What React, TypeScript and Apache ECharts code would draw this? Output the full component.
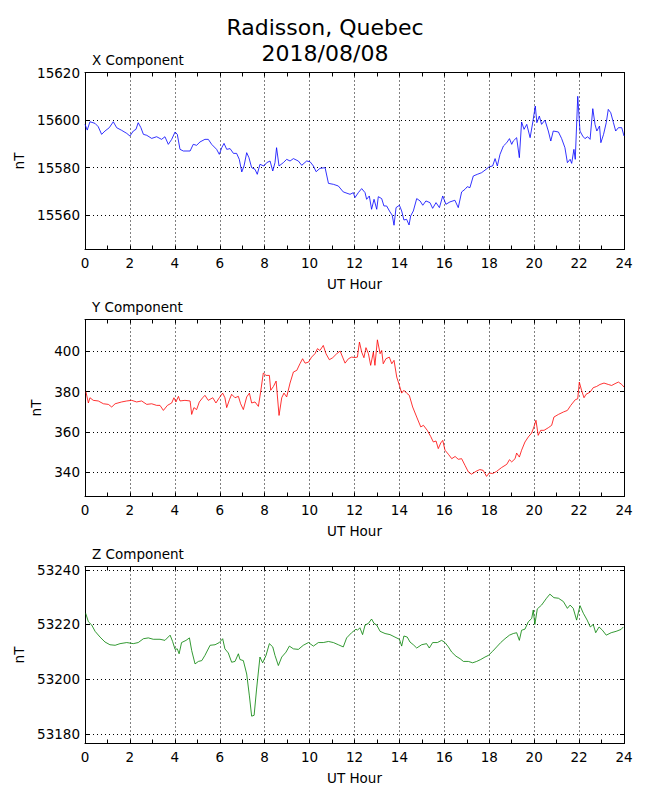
import React, { useEffect, useRef } from "react";
import * as echarts from "echarts";

// ---- X component (nT) ----
const xHours = [
  0.0, 0.1, 0.22, 0.45, 0.59, 0.74, 0.89, 1.08, 1.26, 1.41, 1.63, 1.86, 2.0, 2.15, 2.27, 2.37, 2.49, 2.6, 2.75, 2.97,
  3.19, 3.41, 3.56, 3.71, 3.86, 4.01, 4.11, 4.23, 4.38, 4.68, 4.82, 4.97, 5.12, 5.34, 5.49, 5.64, 5.86, 5.98, 6.09, 6.19,
  6.31, 6.46, 6.61, 6.75, 6.87, 6.98, 7.08, 7.2, 7.3, 7.42, 7.57, 7.67, 7.79, 7.97, 8.09, 8.24, 8.36, 8.46, 8.53, 8.64,
  8.83, 8.98, 9.13, 9.28, 9.5, 9.65, 9.87, 10.02, 10.17, 10.29, 10.46, 10.69, 10.84, 11.06, 11.28, 11.5, 11.8, 11.95,
  12.02, 12.17, 12.32, 12.47, 12.54, 12.66, 12.76, 12.87, 12.99, 13.06, 13.21, 13.31, 13.43, 13.58, 13.68, 13.76, 13.85,
  14.0, 14.1, 14.2, 14.32, 14.43, 14.5, 14.62, 14.77, 14.92, 15.04, 15.18, 15.36, 15.48, 15.63, 15.78, 15.93, 16.07,
  16.25, 16.47, 16.62, 16.77, 16.92, 17.02, 17.14, 17.29, 17.47, 17.66, 17.86, 18.0, 18.15, 18.26, 18.36, 18.48, 18.63,
  18.78, 18.9, 19.0, 19.07, 19.22, 19.34, 19.44, 19.55, 19.67, 19.82, 19.94, 20.05, 20.12, 20.23, 20.33, 20.48, 20.63,
  20.74, 20.85, 21.08, 21.22, 21.37, 21.48, 21.6, 21.67, 21.77, 21.83, 21.94, 22.04, 22.16, 22.26, 22.38, 22.49, 22.61,
  22.71, 22.79, 22.91, 22.97, 23.09, 23.21, 23.3, 23.41, 23.53, 23.63, 23.75, 23.9, 24.0,
];
const xNT = [
  15598.2, 15595.8, 15599.3, 15598.6, 15597.2, 15594.0, 15595.4, 15596.8, 15599.3, 15596.8, 15595.7, 15594.4, 15593.3,
  15595.4, 15596.1, 15598.9, 15596.8, 15594.0, 15593.6, 15592.3, 15593.0, 15591.9, 15593.0, 15589.8, 15591.9, 15595.0,
  15594.0, 15587.7, 15587.0, 15587.0, 15589.8, 15589.4, 15590.8, 15591.9, 15591.9, 15589.8, 15587.7, 15585.6, 15588.4,
  15590.2, 15587.7, 15588.0, 15586.0, 15586.0, 15583.5, 15578.2, 15580.7, 15586.3, 15584.2, 15580.0, 15579.3, 15577.2,
  15581.4, 15580.7, 15582.1, 15582.8, 15578.6, 15582.1, 15588.4, 15580.7, 15582.1, 15583.5, 15582.8, 15583.8, 15582.8,
  15581.0, 15582.8, 15582.5, 15580.7, 15578.3, 15579.7, 15580.0, 15573.4, 15573.0, 15572.3, 15569.8, 15568.8, 15569.5,
  15567.4, 15569.5, 15571.2, 15569.5, 15566.7, 15568.1, 15562.5, 15566.7, 15562.5, 15567.8, 15567.0, 15563.9, 15563.9,
  15561.4, 15560.0, 15555.8, 15563.2, 15564.2, 15561.8, 15558.0, 15558.3, 15555.9, 15559.7, 15561.8, 15567.0, 15566.0,
  15564.2, 15566.0, 15565.3, 15562.9, 15565.3, 15563.2, 15568.1, 15564.6, 15565.6, 15566.3, 15563.2, 15569.8, 15570.9,
  15572.0, 15571.6, 15576.5, 15577.2, 15577.9, 15579.3, 15580.4, 15580.7, 15583.8, 15580.7, 15585.6, 15589.1, 15590.5,
  15592.2, 15589.8, 15591.2, 15592.6, 15584.2, 15599.2, 15596.1, 15598.2, 15592.6, 15599.2, 15605.9, 15598.9, 15601.7,
  15598.2, 15600.0, 15595.4, 15591.2, 15595.4, 15595.0, 15592.3, 15588.4, 15582.1, 15583.5, 15581.8, 15587.7, 15583.5,
  15610.0, 15595.4, 15593.3, 15592.2, 15593.0, 15591.9, 15604.8, 15598.2, 15595.4, 15597.5, 15590.5, 15594.0, 15598.9,
  15604.5, 15603.1, 15598.9, 15595.4, 15596.8, 15596.8, 15593.3,
];

// ---- Y component (nT) ----
const yHours = [
  0.04, 0.15, 0.22, 0.37, 0.59, 0.82, 1.04, 1.19, 1.34, 1.63, 1.86, 2.08, 2.3, 2.52, 2.75, 2.97, 3.19, 3.34, 3.49, 3.67,
  3.86, 3.96, 4.05, 4.16, 4.23, 4.45, 4.68, 4.75, 4.85, 4.97, 5.09, 5.24, 5.34, 5.49, 5.69, 5.83, 5.98, 6.13, 6.23, 6.31,
  6.43, 6.53, 6.68, 6.83, 6.93, 7.05, 7.2, 7.32, 7.42, 7.57, 7.72, 7.82, 7.94, 8.06, 8.21, 8.27, 8.39, 8.51, 8.64, 8.76,
  8.86, 8.98, 9.13, 9.28, 9.43, 9.57, 9.69, 9.8, 9.95, 10.09, 10.24, 10.35, 10.46, 10.61, 10.73, 10.88, 11.03, 11.21,
  11.36, 11.47, 11.58, 11.73, 11.87, 12.02, 12.13, 12.22, 12.32, 12.42, 12.51, 12.62, 12.72, 12.84, 12.91, 13.02, 13.14,
  13.21, 13.28, 13.4, 13.55, 13.66, 13.76, 13.88, 14.0, 14.1, 14.2, 14.32, 14.44, 14.59, 14.77, 14.95, 15.07, 15.24,
  15.39, 15.51, 15.63, 15.73, 15.84, 15.93, 16.03, 16.18, 16.33, 16.48, 16.62, 16.77, 16.92, 17.07, 17.21, 17.41, 17.58,
  17.73, 17.88, 18.0, 18.15, 18.33, 18.55, 18.78, 18.9, 19.0, 19.15, 19.22, 19.34, 19.44, 19.59, 19.74, 19.89, 19.99,
  20.08, 20.18, 20.29, 20.44, 20.63, 20.78, 20.88, 21.08, 21.3, 21.48, 21.63, 21.83, 21.94, 22.01, 22.11, 22.22, 22.31,
  22.49, 22.63, 22.78, 22.93, 23.11, 23.3, 23.45, 23.6, 23.75, 23.9, 24.0,
];
const yNT = [
  380.0, 374.4, 377.0, 375.7, 375.4, 374.0, 373.7, 372.4, 374.0, 374.9, 375.4, 375.7, 374.9, 375.4, 373.7, 374.0, 373.2,
  373.2, 370.7, 373.2, 374.4, 377.0, 374.9, 377.7, 375.4, 375.7, 375.4, 368.7, 372.1, 371.1, 374.9, 377.0, 378.2, 375.7,
  377.0, 374.4, 377.0, 379.3, 377.0, 372.1, 376.0, 378.7, 377.0, 377.7, 374.0, 371.1, 377.4, 379.3, 374.4, 374.9, 372.7,
  379.8, 389.3, 388.1, 388.1, 380.7, 382.6, 385.3, 368.2, 377.0, 379.3, 377.4, 384.3, 389.8, 390.6, 393.9, 396.4, 394.2,
  394.7, 397.2, 398.9, 401.4, 400.5, 403.0, 398.9, 395.9, 396.9, 398.9, 400.2, 397.2, 394.2, 396.4, 397.2, 397.0, 397.2,
  404.7, 399.7, 396.9, 401.9, 398.9, 393.1, 399.7, 393.1, 405.8, 398.9, 400.5, 393.9, 396.4, 397.2, 393.9, 395.6, 387.3,
  383.1, 379.3, 380.7, 379.3, 378.2, 372.4, 367.4, 362.5, 363.3, 360.8, 357.8, 355.0, 355.5, 351.7, 354.5, 355.8, 350.9,
  348.9, 346.7, 347.8, 346.4, 346.7, 343.4, 340.1, 339.0, 340.4, 341.3, 340.9, 337.9, 339.6, 339.3, 340.4, 342.3, 343.9,
  346.2, 345.1, 346.7, 349.5, 347.5, 350.9, 355.0, 357.5, 359.5, 362.5, 365.8, 358.3, 360.8, 360.8, 362.1, 363.3, 367.4,
  368.7, 369.9, 370.7, 373.2, 376.0, 376.5, 384.8, 380.7, 377.0, 378.7, 379.8, 382.0, 382.6, 383.6, 384.3, 383.6, 383.1,
  384.0, 384.8, 383.6, 382.3,
];

// ---- Z component (nT) ----
const zHours = [
  0.03, 0.15, 0.3, 0.45, 0.67, 0.89, 1.11, 1.34, 1.56, 1.86, 2.15, 2.37, 2.6, 2.82, 3.04, 3.34, 3.56, 3.79, 3.9, 4.01,
  4.11, 4.19, 4.3, 4.5, 4.65, 4.75, 4.9, 5.05, 5.2, 5.34, 5.57, 5.79, 5.98, 6.13, 6.23, 6.38, 6.53, 6.68, 6.83, 6.9,
  7.05, 7.2, 7.32, 7.42, 7.53, 7.64, 7.79, 7.91, 8.06, 8.21, 8.36, 8.46, 8.61, 8.76, 8.95, 9.1, 9.28, 9.5, 9.72, 9.95,
  10.17, 10.39, 10.61, 10.84, 11.06, 11.28, 11.5, 11.65, 11.87, 12.07, 12.13, 12.24, 12.36, 12.47, 12.62, 12.76, 12.87,
  12.99, 13.14, 13.36, 13.58, 13.8, 14.0, 14.1, 14.2, 14.35, 14.47, 14.62, 14.77, 14.99, 15.21, 15.33, 15.48, 15.69,
  15.88, 16.03, 16.18, 16.33, 16.52, 16.7, 16.85, 17.07, 17.26, 17.44, 17.62, 17.81, 17.96, 18.15, 18.33, 18.51, 18.7,
  18.9, 19.07, 19.22, 19.34, 19.44, 19.59, 19.74, 19.89, 19.96, 20.03, 20.14, 20.33, 20.55, 20.7, 20.88, 21.08, 21.3,
  21.48, 21.6, 21.74, 21.89, 22.04, 22.19, 22.36, 22.5, 22.63, 22.74, 22.89, 23.04, 23.21, 23.43, 23.65, 23.87, 23.97,
];
const zNT = [
  53224.1, 53221.0, 53219.8, 53217.5, 53215.4, 53213.6, 53212.6, 53212.4, 53213.0, 53213.4, 53213.0, 53213.4, 53214.8,
  53215.1, 53214.6, 53214.6, 53214.2, 53216.1, 53213.8, 53210.9, 53211.1, 53209.3, 53213.4, 53214.2, 53215.1, 53210.5,
  53205.6, 53206.5, 53206.8, 53208.7, 53212.4, 53212.6, 53213.4, 53214.8, 53211.1, 53209.6, 53206.2, 53206.5, 53209.3,
  53207.2, 53206.8, 53201.9, 53193.9, 53186.5, 53186.8, 53196.4, 53208.1, 53206.0, 53208.7, 53213.0, 53211.8, 53208.7,
  53205.0, 53208.1, 53209.9, 53212.1, 53211.1, 53210.9, 53212.4, 53213.4, 53212.1, 53213.4, 53213.4, 53213.8, 53213.4,
  53212.6, 53211.8, 53215.1, 53217.0, 53218.3, 53217.9, 53218.8, 53216.3, 53219.8, 53220.4, 53222.0, 53220.4, 53219.8,
  53217.5, 53216.7, 53216.3, 53215.4, 53214.6, 53212.1, 53215.8, 53215.4, 53213.6, 53212.6, 53211.4, 53212.6, 53213.0,
  53211.4, 53213.4, 53213.4, 53214.2, 53213.4, 53211.8, 53209.9, 53208.4, 53207.5, 53206.5, 53206.5, 53206.0, 53206.5,
  53207.2, 53208.1, 53208.7, 53210.2, 53211.8, 53213.4, 53214.8, 53216.1, 53216.7, 53217.0, 53214.2, 53217.9, 53218.3,
  53221.0, 53222.2, 53225.3, 53220.0, 53225.7, 53227.1, 53229.6, 53231.1, 53229.8, 53229.6, 53228.4, 53225.9, 53227.1,
  53225.9, 53221.6, 53226.9, 53224.1, 53221.6, 53219.1, 53220.0, 53217.0, 53219.1, 53217.9, 53216.1, 53217.0, 53217.5,
  53218.2, 53219.1,
];

// tick labels
const xTicks = [15560, 15580, 15600, 15620];
const yTicks = [340, 360, 380, 400];
const zTicks = [53180, 53200, 53220, 53240];
const panelTitles = ["X Component", "Y Component", "Z Component"];
const mainTitle = "Radisson, Quebec\n2018/08/08";
const xAxisName = "UT Hour";
const yAxisName = "nT";

const FONT = "DejaVu Sans";
const TOPS = [72.5, 319.5, 566.5];
const H = 177;
const LEFT = 85;
const RIGHT = 26;

const panels = [
  { hours: xHours, values: xNT, ticks: xTicks, min: 15545.6, max: 15620, color: "#0000ff", nameGap: 49 },
  { hours: yHours, values: yNT, ticks: yTicks, min: 327.9, max: 415.9, color: "#ff0000", nameGap: 37 },
  { hours: zHours, values: zNT, ticks: zTicks, min: 53176.5, max: 53241.2, color: "#008000", nameGap: 49 },
];

function buildOption() {
  const black = "#000";
  const grid: any[] = [];
  const xAxis: any[] = [];
  const yAxis: any[] = [];
  const series: any[] = [];
  const graphic: any[] = [];

  graphic.push({
    type: "text",
    x: 325,
    y: 14,
    style: {
      text: mainTitle,
      align: "center",
      verticalAlign: "top",
      fontFamily: FONT,
      fontSize: 22,
      lineHeight: 26.4,
      fill: black,
    },
  });

  panels.forEach((p, i) => {
    grid.push({ left: LEFT, right: RIGHT, top: TOPS[i], height: H, show: false });
    graphic.push({
      type: "text",
      x: 92,
      y: TOPS[i] - 13,
      style: {
        text: panelTitles[i],
        align: "left",
        verticalAlign: "middle",
        fontFamily: FONT,
        fontSize: 13.5,
        fill: black,
      },
    });
    const lineStyle = { color: black, width: 1 };
    const xCommon = {
      type: "value",
      gridIndex: i,
      min: 0,
      max: 24,
      interval: 2,
      axisLine: { show: true, onZero: false, lineStyle },
      axisTick: { show: true, inside: true, length: 4, lineStyle },
      minorTick: { show: true, splitNumber: 2, length: 4, lineStyle },
    };
    xAxis.push({
      ...xCommon,
      position: "bottom",
      name: xAxisName,
      nameLocation: "middle",
      nameGap: 27,
      nameTextStyle: { fontFamily: FONT, fontSize: 13.5, color: black },
      axisLabel: { show: true, margin: 6, fontFamily: FONT, fontSize: 13.5, color: black },
      splitLine: { show: true, lineStyle: { color: black, width: 1, type: [1, 3] } },
    });
    xAxis.push({
      ...xCommon,
      position: "top",
      axisLabel: { show: false },
      splitLine: { show: false },
    });
    const yCommon = {
      type: "value",
      gridIndex: i,
      min: p.min,
      max: p.max,
      axisLine: { show: true, onZero: false, lineStyle },
      axisTick: { show: true, inside: true, length: 4, lineStyle, customValues: p.ticks },
    };
    yAxis.push({
      ...yCommon,
      position: "left",
      name: yAxisName,
      nameLocation: "middle",
      nameGap: p.nameGap,
      nameRotate: 90,
      nameTextStyle: { fontFamily: FONT, fontSize: 13.5, color: black },
      axisLabel: {
        show: true,
        margin: 5,
        fontFamily: FONT,
        fontSize: 13.5,
        color: black,
        customValues: p.ticks,
        formatter: (v: number) => String(v),
      },
      splitLine: { show: true, lineStyle: { color: black, width: 1, type: [1, 3] } },
    });
    yAxis.push({
      ...yCommon,
      position: "right",
      axisLabel: { show: false },
      splitLine: { show: false },
    });
    series.push({
      type: "line",
      xAxisIndex: 2 * i,
      yAxisIndex: 2 * i,
      data: p.hours.map((h, j) => [h, p.values[j]]),
      showSymbol: false,
      symbol: "none",
      silent: true,
      color: p.color,
      lineStyle: { color: p.color, width: 0.8 },
      z: 3,
    });
  });

  return {
    animation: false,
    backgroundColor: "#fff",
    grid,
    xAxis,
    yAxis,
    series,
    graphic,
  };
}

export default function App() {
  const ref = useRef<HTMLDivElement>(null);
  useEffect(() => {
    if (!ref.current) return;
    const chart = echarts.init(ref.current, undefined, { renderer: "svg" });
    chart.setOption(buildOption() as any);
    return () => chart.dispose();
  }, []);
  return (
    <div
      ref={ref}
      style={{ position: "absolute", left: 0, top: 0, width: 650, height: 800, background: "#fff" }}
    />
  );
}
